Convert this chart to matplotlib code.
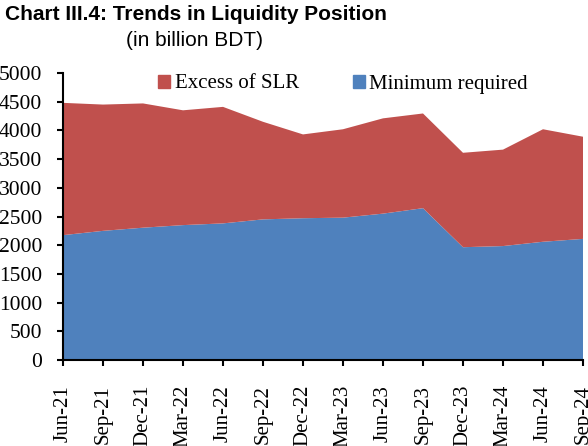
import matplotlib
matplotlib.use("Agg")
import matplotlib.pyplot as plt
import numpy as np
from matplotlib.patches import Patch

quarters = ["Jun-21", "Sep-21", "Dec-21", "Mar-22", "Jun-22", "Sep-22", "Dec-22",
            "Mar-23", "Jun-23", "Sep-23", "Dec-23", "Mar-24", "Jun-24", "Sep-24"]
minimum_required = [2175, 2250, 2305, 2350, 2380, 2450, 2470,
                    2480, 2550, 2645, 1965, 1985, 2060, 2110]
excess_slr = [2305, 2200, 2165, 2000, 2030, 1700, 1460,
              1540, 1660, 1650, 1645, 1680, 1960, 1780]

red = "#C0504D"
blue = "#4F81BD"
serif = ["Liberation Serif", "DejaVu Serif"]
sans = ["Liberation Sans", "DejaVu Sans"]

fig = plt.figure(figsize=(5.88, 4.46), dpi=100)
ax = fig.add_axes([63 / 588, 1 - 360 / 446, 520 / 588, 287 / 446])

x = np.arange(len(quarters))
ax.stackplot(x, minimum_required, excess_slr, colors=[blue, red], linewidth=0)

ax.set_xlim(0, len(quarters) - 1)
ax.set_ylim(0, 5000)
ax.set_yticks(np.arange(0, 5001, 500))
ax.set_xticks(x)
ax.set_xticklabels(quarters, rotation=90, family=serif, fontsize=15)
for lab in ax.get_yticklabels():
    lab.set_family(serif)
    lab.set_fontsize(15.5)

for s in ["top", "right"]:
    ax.spines[s].set_visible(False)
for s in ["left", "bottom"]:
    ax.spines[s].set_linewidth(1.5)
ax.tick_params(axis="both", direction="out", length=4, width=1.5, colors="black")
ax.tick_params(axis="x", pad=14)
ax.tick_params(axis="y", pad=11)

handles = [Patch(color=red, label="Excess of SLR"),
           Patch(color=blue, label="Minimum required")]
fig.legend(handles=handles, loc="center", bbox_to_anchor=(343 / 588, 1 - 84 / 446),
           ncol=2, frameon=False, prop={"family": serif, "size": 15},
           handlelength=0.58, handleheight=0.58, handletextpad=0.2,
           columnspacing=2.6, borderpad=0, borderaxespad=0)

fig.text(0.008, 1 - 14 / 446, "Chart III.4: Trends in Liquidity Position", fontsize=15,
         fontweight="bold", family=sans, va="center")
fig.text(195 / 588, 1 - 40 / 446, "(in billion BDT)", fontsize=15,
         family=sans, va="center", ha="center")

fig.savefig("out.png", dpi=100)
